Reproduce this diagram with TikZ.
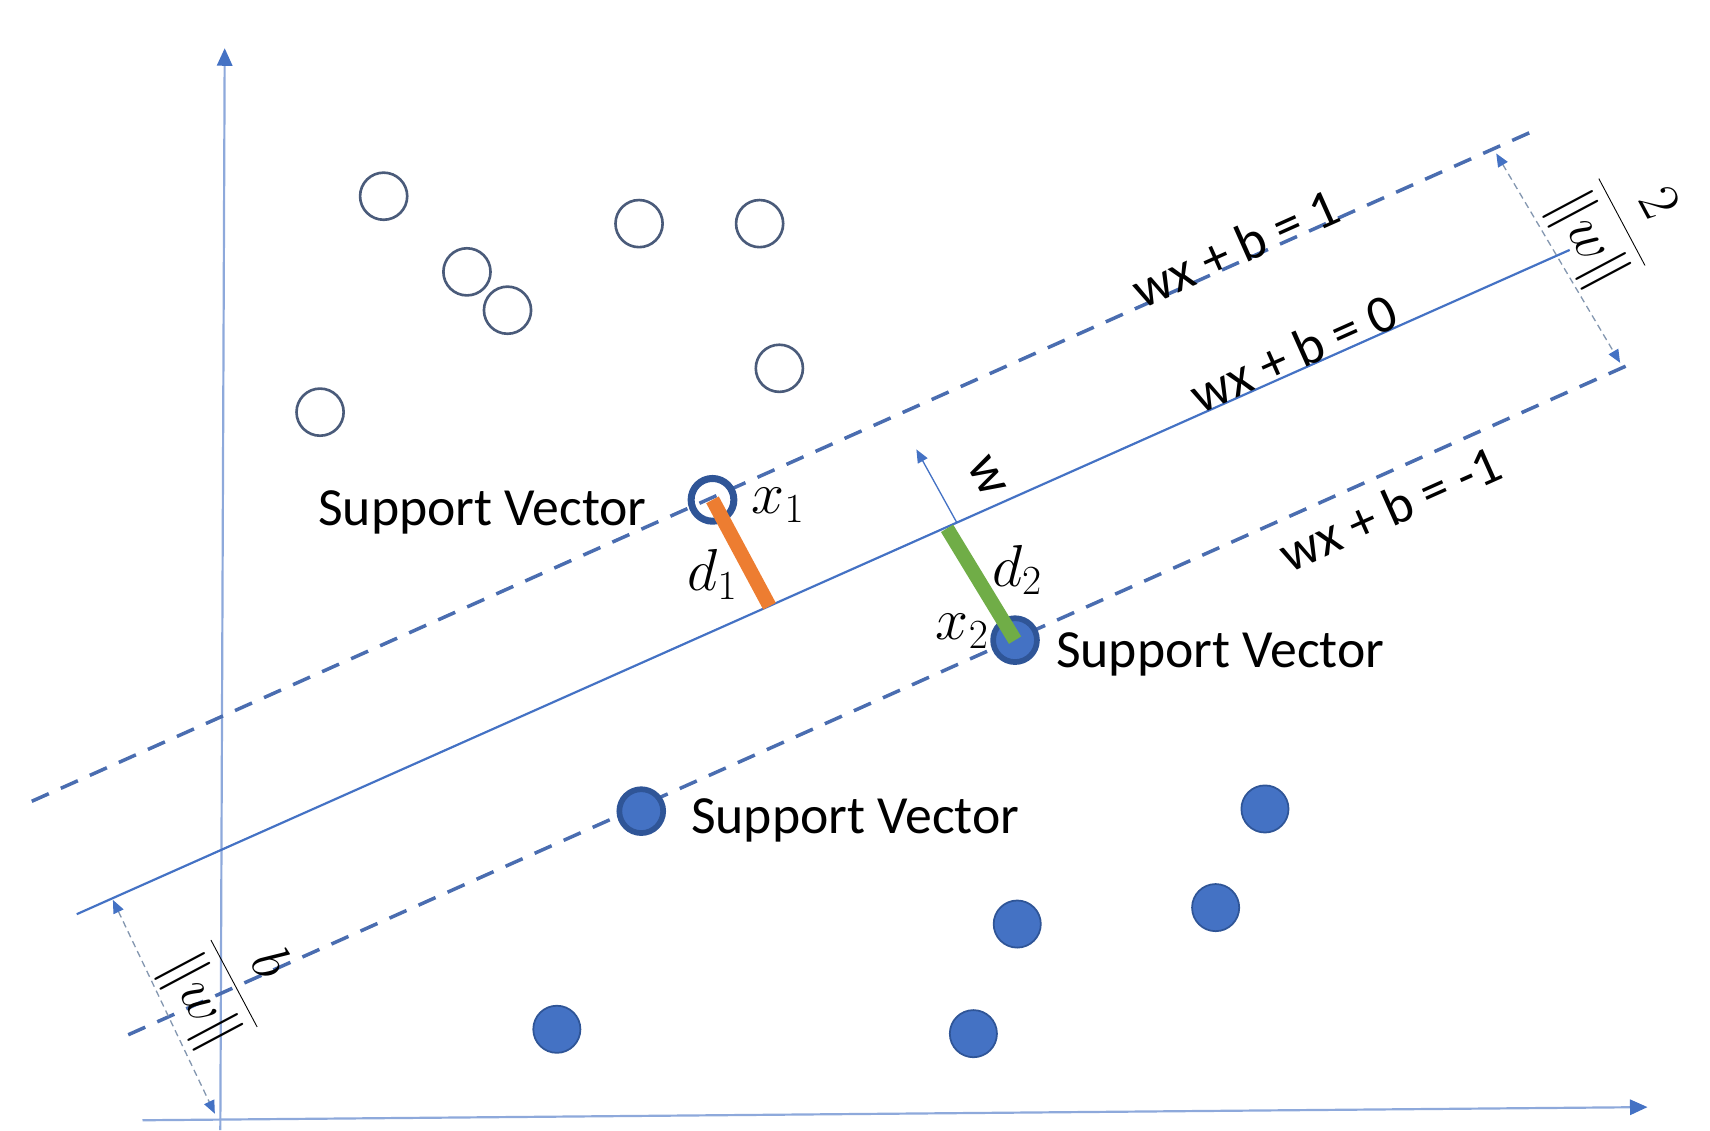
\RequirePackage{fix-cm}
\documentclass[tikz,border=0pt]{standalone}
\usepackage{fontspec}
\setmainfont{Carlito}
\usetikzlibrary{arrows.meta}
\definecolor{axisc}{HTML}{8EA9DB}
\definecolor{tipc}{HTML}{4472C4}
\definecolor{linec}{HTML}{4472C4}
\definecolor{dashc}{HTML}{4A6DB0}
\definecolor{dimc}{HTML}{8497B0}
\definecolor{openc}{HTML}{4A5B7A}
\definecolor{fillc}{HTML}{4472C4}
\definecolor{svc}{HTML}{2F5597}
\definecolor{orangec}{HTML}{ED7D31}
\definecolor{greenc}{HTML}{70AD47}
\newcommand\txtfs{\fontsize{24.5}{29}\selectfont}
\newcommand\mathfs{\fontsize{27}{32}\selectfont}
\newcommand\fracfs{\fontsize{26}{31}\selectfont}
\begin{document}
\begin{tikzpicture}[x=0.5pt,y=-0.5pt,
  axisline/.style={draw=axisc, line width=1pt, -{Triangle[length=8pt,width=7pt,color=tipc]}},
  marginline/.style={draw=dashc, line width=1.6pt, dash pattern=on 8.5pt off 6pt},
  hyperline/.style={draw=linec, line width=1pt},
  dimline/.style={draw=dimc, line width=0.6pt, dash pattern=on 3pt off 2pt,
     {Triangle[length=6pt,width=5pt,color=tipc]}-{Triangle[length=6pt,width=5pt,color=tipc]}},
  wvec/.style={draw=linec, line width=0.6pt, -{Triangle[length=6pt,width=5pt,color=tipc]}},
  opendot/.style={circle, draw=openc, line width=1.2pt, minimum size=21.5pt, inner sep=0pt},
  filldot/.style={circle, fill=fillc, draw=svc, line width=0.8pt, minimum size=21.5pt, inner sep=0pt},
  svfill/.style={circle, fill=fillc, draw=svc, line width=2.6pt, minimum size=20pt, inner sep=0pt},
  svopen/.style={circle, draw=svc, line width=3.2pt, minimum size=19.5pt, inner sep=0pt},
  svlabel/.style={anchor=base west, inner sep=0pt, font=\txtfs},
  eqlabel/.style={rotate=24, inner sep=0pt, font=\txtfs},
  mlabel/.style={inner sep=0pt, font=\mathfs},
  bar/.style={line width=6.5pt, line cap=butt}
]
\useasboundingbox (0,0) rectangle (1560,1031);

% axes
\coordinate (xa0) at (130,1022);
\coordinate (xa1) at (1503,1010);
\coordinate (ya0) at (201,1031);
\coordinate (ya1) at (205,44);
\draw[axisline] (xa0) -- (xa1);
\draw[axisline] (ya0) -- (ya1);

% margin lines and hyperplane
\coordinate (u1) at (29,731);
\coordinate (u2) at (1400,119);
\coordinate (s1) at (70,834);
\coordinate (s2) at (1432,228);
\coordinate (l1) at (117,944);
\coordinate (l2) at (1490,331);
\draw[marginline] (u1) -- (u2);
\draw[hyperline] (s1) -- (s2);
\draw[marginline] (l1) -- (l2);

% dimension arrows
\coordinate (da1) at (1365,140);
\coordinate (da2) at (1478,331);
\draw[dimline] (da1) -- (da2);
\coordinate (db1) at (103,821);
\coordinate (db2) at (196,1016);
\draw[dimline] (db1) -- (db2);

% w vector
\coordinate (wb) at (873,477);
\coordinate (wt) at (836,410);
\draw[wvec] (wb) -- (wt);

% open points
\node[opendot] (o1) at (350,179) {};
\node[opendot] (o2) at (583,204) {};
\node[opendot] (o3) at (693,204) {};
\node[opendot] (o4) at (426,248) {};
\node[opendot] (o5) at (463,283) {};
\node[opendot] (o6) at (711,336) {};
\node[opendot] (o7) at (292,376) {};
\node[svopen] (x1) at (650,456) {};

% filled points
\node[svfill] (x2) at (926,584) {};
\node[svfill] (sv3) at (585,740) {};
\node[filldot] (f1) at (1154,738) {};
\node[filldot] (f2) at (928,843) {};
\node[filldot] (f3) at (1109,828) {};
\node[filldot] (f4) at (508,939) {};
\node[filldot] (f5) at (888,943) {};

% distance bars
\coordinate (d1e) at (702,553);
\coordinate (d2s) at (864,482);
\draw[bar, draw=orangec] (x1.center) -- (d1e);
\draw[bar, draw=greenc] (d2s) -- (x2.center);

% labels
\node[svlabel] (lsv1) at (290,479) {Support Vector};
\node[svlabel] (lsv2) at (963,609) {Support Vector};
\node[svlabel] (lsv3) at (630,760) {Support Vector};

\node[mlabel] (lx1) at (710,461) {$x_1$};
\node[mlabel] (ld1) at (650,524) {$d_1$};
\node[mlabel] (ld2) at (928,520) {$d_2$};
\node[mlabel] (lx2) at (878,576) {$x_2$};

\node[eqlabel] (e1) at (1127,226) {wx + b = 1};
\node[eqlabel] (e0) at (1180,322) {wx + b = 0};
\node[eqlabel] (em) at (1268,464) {wx + b = -1};

\node[inner sep=0pt, rotate=-62, font=\txtfs] (lw) at (900,435) {w};
\node[inner sep=0pt, rotate=-62, font=\fracfs] (fr2) at (1477,204) {$\displaystyle\frac{2}{\|w\|}$};
\node[inner sep=0pt, rotate=-62, font=\fracfs] (frb) at (212,898) {$\displaystyle\frac{b}{\|w\|}$};
\end{tikzpicture}
\end{document}
